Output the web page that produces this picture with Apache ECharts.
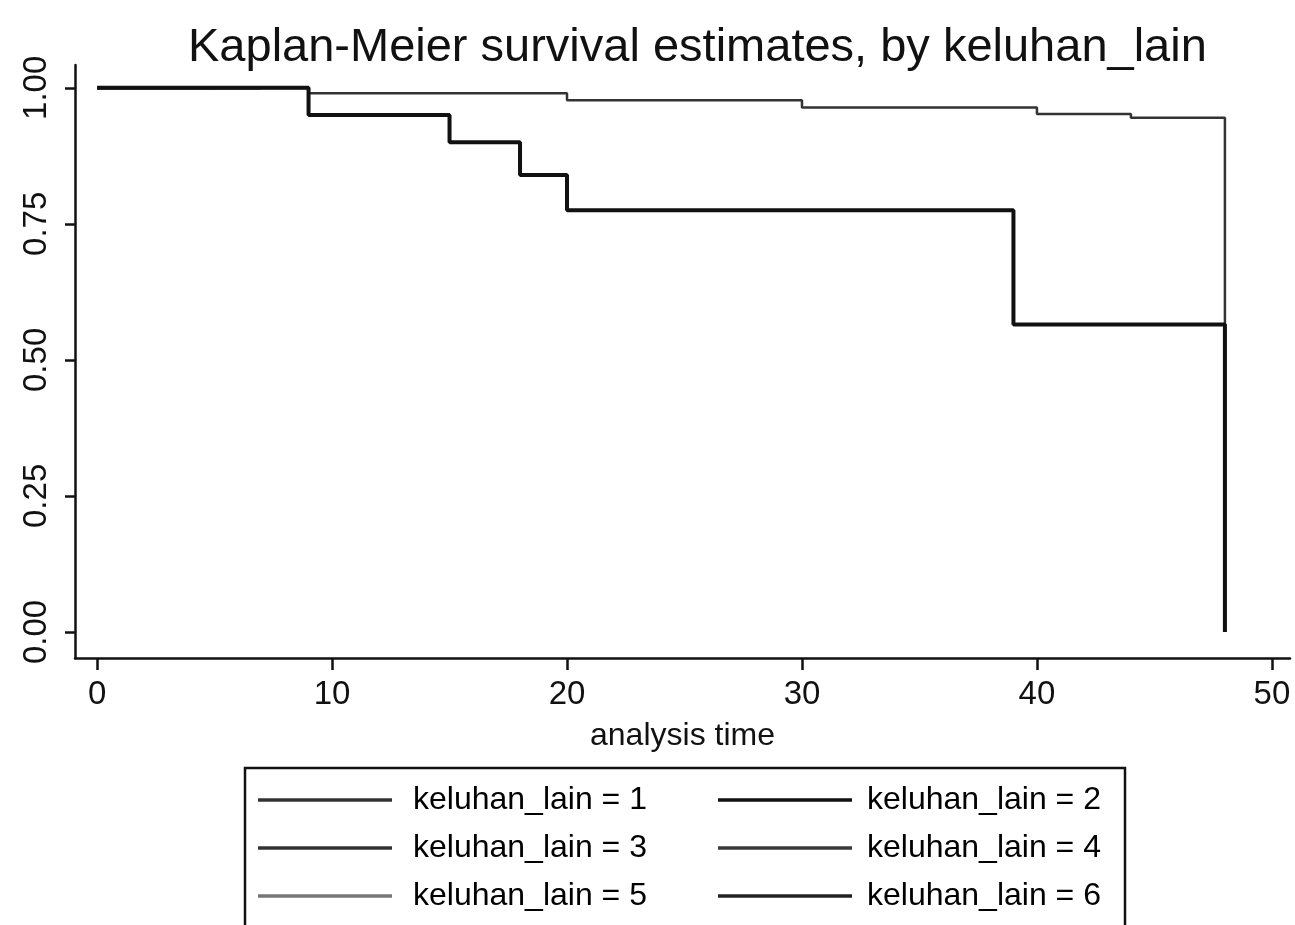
<!DOCTYPE html>
<html>
<head>
<meta charset="utf-8">
<script src="https://cdn.jsdelivr.net/npm/echarts@6/dist/echarts.min.js"></script>
<style>html,body{margin:0;padding:0;background:#fff}#c{width:1295px;height:925px}</style>
</head>
<body>
<div id="c"></div>
<script>
// ---- data ----
const titleText = 'Kaplan-Meier survival estimates, by keluhan_lain';
const groupNames = ['keluhan_lain = 1','keluhan_lain = 2','keluhan_lain = 3','keluhan_lain = 4','keluhan_lain = 5','keluhan_lain = 6'];
const xTicks = [0, 10, 20, 30, 40, 50];
const yTicks = [0, 0.25, 0.5, 0.75, 1];
// survival curves: [time, survival]
const group1 = [[0,1],[9,0.99],[20,0.977],[30,0.964],[40,0.952],[44,0.945],[48,0]];
const group2 = [[0,1],[9,0.95],[15,0.9],[18,0.84],[20,0.775],[39,0.565],[48,0]];
const group3 = [[0,1],[5,1]];
const group4 = [[0,1],[9,1]];
const group5 = [[0,1],[4,1]];
const group6 = [[0,1],[7,1]];
const groupData = [group1, group2, group3, group4, group5, group6];

const lineColors = ['#333', '#111', '#333', '#3a3a3a', '#777', '#222'];
const lineWidths = [2.5, 4, 3, 3, 2, 3.5];

const chart = echarts.init(document.getElementById('c'));
const font = '"Liberation Sans", Arial, sans-serif';
const legendData = groupNames.map((name, i) => ({
  name: name,
  textStyle: i % 2 === 0 ? { width: 289, padding: [0,0,0,16] } : { width: 238, padding: [0,0,0,10] }
}));
chart.setOption({
  animation: false,
  backgroundColor: '#fff',
  title: {
    text: titleText, left: 183, top: 20,
    textStyle: { fontFamily: font, fontSize: 47, fontWeight: 'normal', color: '#111' }
  },
  grid: { left: 75, right: 5, top: 65, bottom: 267, containLabel: false },
  xAxis: {
    type: 'value', min: -0.94, max: 50.77,
    name: 'analysis time', nameLocation: 'middle', nameGap: 62,
    nameTextStyle: { fontFamily: font, fontSize: 32, color: '#111' },
    axisLine: { show: true, onZero: false, lineStyle: { color: '#111', width: 2.5 } },
    axisTick: { show: true, length: 12, customValues: xTicks, lineStyle: { color: '#111', width: 2.5 } },
    axisLabel: { customValues: xTicks, margin: 20, fontFamily: font, fontSize: 33, color: '#111' },
    splitLine: { show: false }
  },
  yAxis: {
    type: 'value', min: -0.048, max: 1.042,
    axisLine: { show: true, onZero: false, lineStyle: { color: '#111', width: 2.5 } },
    axisTick: { show: true, length: 10, customValues: yTicks, lineStyle: { color: '#111', width: 2.5 } },
    axisLabel: { customValues: yTicks, rotate: 90, margin: 22, fontFamily: font, fontSize: 33, color: '#111',
      formatter: v => v.toFixed(2) },
    splitLine: { show: false }
  },
  legend: {
    left: 245, top: 768, width: 910,
    orient: 'horizontal',
    padding: [16, 20, 40, 13],
    icon: 'rect',
    itemWidth: 134, itemHeight: 3.5, itemGap: 16,
    borderColor: '#111', borderWidth: 2.5,
    textStyle: { fontFamily: font, fontSize: 32, color: '#000', lineHeight: 28 },
    data: legendData
  },
  series: groupNames.map((name, i) => ({
    name: name, type: 'line', step: 'end', data: groupData[i],
    showSymbol: false, symbol: 'none',
    lineStyle: { color: lineColors[i], width: lineWidths[i] },
    itemStyle: { color: lineColors[i] },
    z: i === 1 ? 5 : 3
  }))
});
</script>
</body>
</html>
